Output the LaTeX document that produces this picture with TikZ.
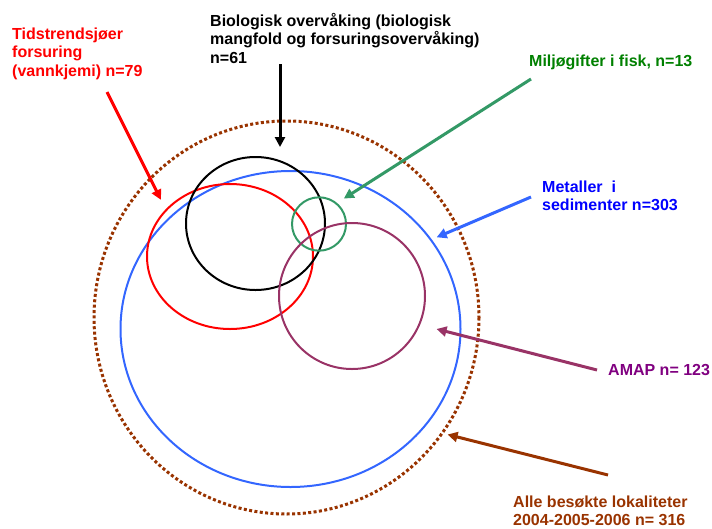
\documentclass[tikz,border=0pt]{standalone}
\usepackage{fontspec}
\setmainfont{Liberation Sans}
\usetikzlibrary{arrows.meta}
\definecolor{cRed}{RGB}{255,0,0}
\definecolor{cGreenL}{RGB}{51,153,102}
\definecolor{cGreenT}{RGB}{0,128,0}
\definecolor{cBlueL}{RGB}{51,102,255}
\definecolor{cBlueT}{RGB}{0,0,255}
\definecolor{cPurpL}{RGB}{153,51,102}
\definecolor{cPurpT}{RGB}{128,0,128}
\definecolor{cBrown}{RGB}{153,51,0}
\tikzset{
  lbl/.style={anchor=base west,align=left,inner sep=0pt,font=\fontsize{16}{18.5}\selectfont\bfseries},
  ring/.style={line width=2pt},
  ptr/.style={line width=3pt,-{Triangle[length=10pt,width=10pt]},shorten >=-2pt}
}
\begin{document}
\begin{tikzpicture}[x=1pt,y=-1pt]
\useasboundingbox (0,0) rectangle (712,528);
% circles
\draw[cBrown,line width=3pt,dash pattern=on 3pt off 2.4pt] (286.5,317.5) ellipse [x radius=192.5,y radius=196.5];
\draw[ring,cBlueL] (290.5,329) ellipse [x radius=170,y radius=158];
\draw[ring,cRed] (230,256.5) ellipse [x radius=83,y radius=72.5];
\draw[ring,black] (255.5,223.5) ellipse [x radius=69.5,y radius=66.5];
\draw[ring,cGreenL] (319,224) ellipse [x radius=27,y radius=26.7];
\draw[ring,cPurpL] (352,296) ellipse [x radius=73,y radius=73];
% labels (base = baseline of last line)
\node[lbl,text=cRed] (lRed) at (12,76) {Tidstrendsjøer\\forsuring\\(vannkjemi) n=79};
\node[lbl,text=black] (lBlack) at (210,63) {Biologisk overvåking (biologisk\\mangfold og forsuringsovervåking)\\n=61};
\node[lbl,text=cGreenT] (lGreen) at (529,66) {Miljøgifter i fisk, n=13};
\node[lbl,text=cBlueT] (lBlue) at (542,210.5) {Metaller\ \ i\\sedimenter n=303};
\node[lbl,text=cPurpT] (lPurp) at (608,375) {AMAP n= 123};
\node[lbl,text=cBrown] (lBrown) at (513,525.5) {Alle besøkte lokaliteter\\2004-2005-2006 n= 316};
% arrow ends
\coordinate (sRed) at (107,92);   \coordinate (tRed) at (160,198);
\coordinate (sBlack) at (280,64); \coordinate (tBlack) at (280,145);
\coordinate (sGreen) at (531,79); \coordinate (tGreen) at (345.5,197.5);
\coordinate (sBlue) at (531,197); \coordinate (tBlue) at (438.5,236.5);
\coordinate (sPurp) at (597,370); \coordinate (tPurp) at (438.5,329.5);
\coordinate (sBrown) at (608,475); \coordinate (tBrown) at (449.5,435);
\draw[ptr,cRed] (sRed) -- (tRed);
\draw[ptr,black] (sBlack) -- (tBlack);
\draw[ptr,cGreenL] (sGreen) -- (tGreen);
\draw[ptr,cBlueL] (sBlue) -- (tBlue);
\draw[ptr,cPurpL] (sPurp) -- (tPurp);
\draw[ptr,cBrown] (sBrown) -- (tBrown);
\end{tikzpicture}
\end{document}
